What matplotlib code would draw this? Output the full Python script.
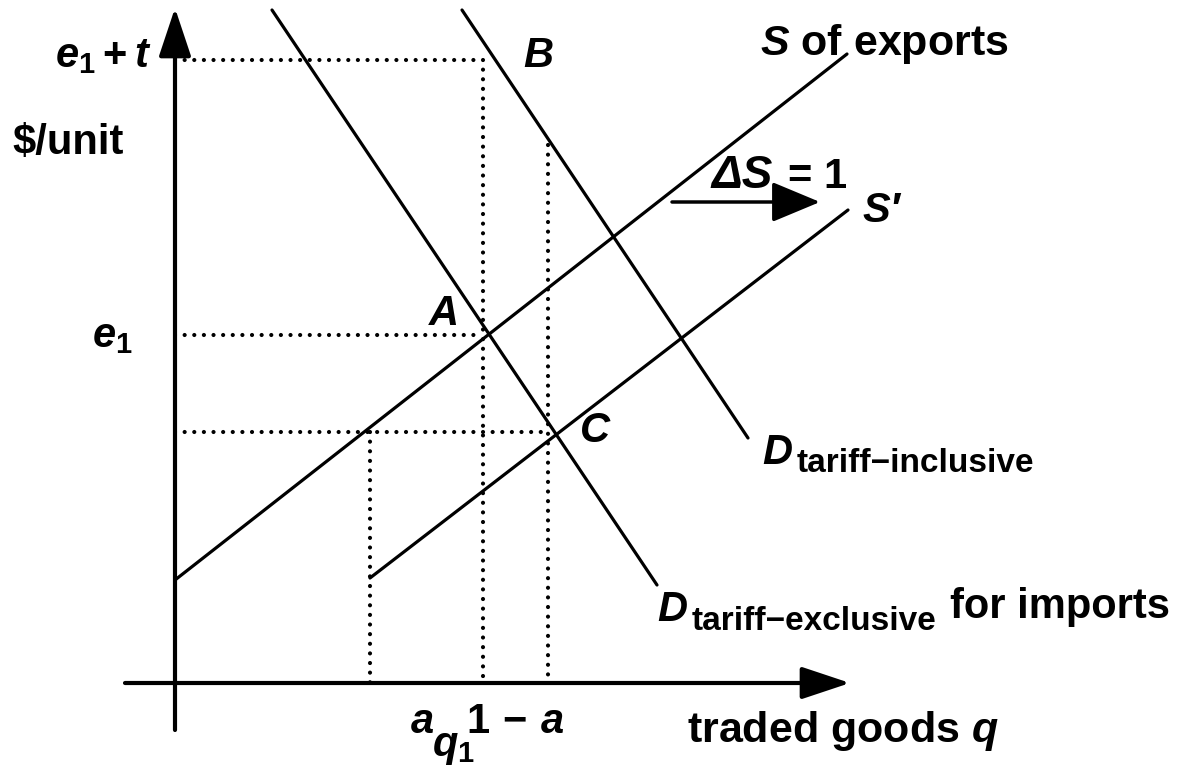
import matplotlib
matplotlib.use("Agg")
import matplotlib.pyplot as plt

# Work in units of 100 px from the axis crossing: q to the right, price upward
q_axis = [-0.50, 6.75]
p_axis = [-0.47, 6.75]

supply_q = [0.00, 6.72]
supply_p = [1.03, 6.29]
supply2_q = [1.95, 6.73]
supply2_p = [1.05, 4.73]
dem_excl_q = [0.97, 4.82]
dem_excl_p = [6.73, 0.98]
dem_incl_q = [2.87, 5.73]
dem_incl_p = [6.73, 2.45]

q_a, q1, q_1ma = 1.95, 3.08, 3.73
e1, e1_t, p_c = 3.48, 6.23, 2.51
p_b_low = 5.38  # where the q = 1-a guide meets the tariff-inclusive demand

shift_q = [4.97, 6.45]
shift_p = 4.81

plt.rcParams['mathtext.fontset'] = 'custom'
plt.rcParams['mathtext.rm'] = 'Liberation Sans:bold'
plt.rcParams['mathtext.it'] = 'Liberation Sans:bold:italic'
plt.rcParams['mathtext.bf'] = 'Liberation Sans:bold'
plt.rcParams['font.family'] = ['Liberation Sans', 'DejaVu Sans']
plt.rcParams['font.weight'] = 'bold'

fig = plt.figure(figsize=(11.78, 7.68), dpi=100)
ax = fig.add_axes([0, 0, 1, 1])
ax.set_xlim(-1.75, 10.03)
ax.set_ylim(-0.85, 6.83)
ax.axis('off')

head = dict(color='k', lw=3, shrinkA=0, shrinkB=0)
ax.annotate('', xy=(q_axis[1], 0), xytext=(q_axis[0], 0),
            arrowprops=dict(arrowstyle='-|>,head_length=3.0,head_width=1.0', **head))
ax.annotate('', xy=(0, p_axis[1]), xytext=(0, p_axis[0]),
            arrowprops=dict(arrowstyle='-|>,head_length=3.0,head_width=1.0', **head))

lw = 2.3
for xs, ys in [(supply_q, supply_p), (supply2_q, supply2_p),
               (dem_excl_q, dem_excl_p), (dem_incl_q, dem_incl_p)]:
    ax.plot(xs, ys, color='k', lw=lw, solid_capstyle='round')

dot = dict(color='k', lw=3.0, linestyle=(0, (0.01, 2.3)), dash_capstyle='round')
ax.plot([0, q1], [e1_t, e1_t], **dot)
ax.plot([q1, q1], [e1_t, 0], **dot)
ax.plot([0, q1], [e1, e1], **dot)
ax.plot([0, q_1ma], [p_c, p_c], **dot)
ax.plot([q_1ma, q_1ma], [p_b_low, 0], **dot)
ax.plot([q_a, q_a], [p_c, 0], **dot)

ax.annotate('', xy=(shift_q[1], shift_p), xytext=(shift_q[0], shift_p),
            arrowprops=dict(arrowstyle='-|>,head_length=3.0,head_width=1.25',
                            color='k', lw=2.5, shrinkA=0, shrinkB=0))

fs = 30


def px(x, y):
    return (x - 175) / 100, (683 - y) / 100


def label(x, y, s, size=fs, style='normal'):
    ax.text(*px(x, y), s, fontsize=size, fontweight='bold', fontstyle=style,
            ha='left', va='baseline')


label(55, 67, r'$e_1 + t$')
label(12, 154, '$/unit')
label(92, 347, r'$e_1$')
label(523, 67, r'$B$')
label(760, 55, r'$S$ of exports', size=31)
label(711, 188, 'ΔS', size=33, style='italic')
label(788, 188, '= 1')
label(862, 222, 'S′', style='italic')
label(428, 325, r'$A$')
label(579, 442, r'$C$')
label(762, 464, r'$D$')
label(797, 472, 'tariff−inclusive', size=24)
label(657, 621, r'$D$')
label(692, 630, 'tariff−exclusive', size=24)
label(950, 618, 'for imports')
label(410, 733, r'$a$')
label(466, 733, r'$1\,-\,a$')
label(432, 756, r'$q_1$')
label(687, 742, r'traded goods $q$', size=31)

fig.savefig('out.png', dpi=100)
